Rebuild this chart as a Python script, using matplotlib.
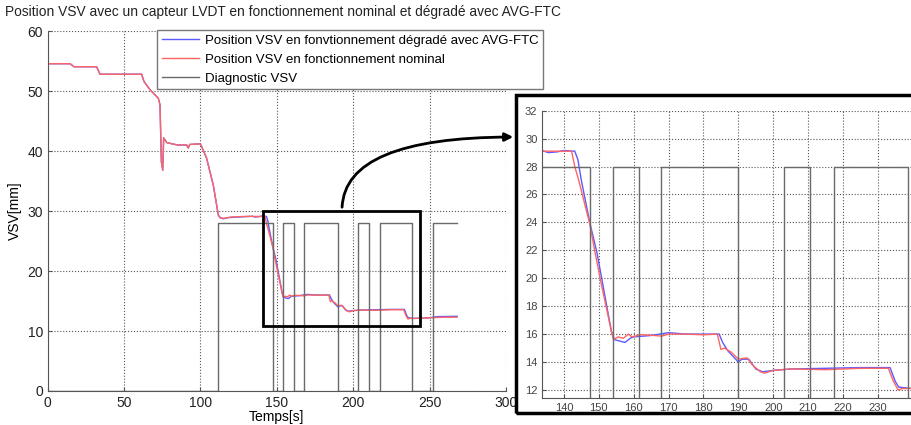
import matplotlib
matplotlib.use("Agg")
import matplotlib.pyplot as plt
from matplotlib.patches import Rectangle, FancyArrowPatch

plt.rcParams["font.family"] = ["Liberation Sans", "DejaVu Sans"]

# ---- data ------------------------------------------------------------
nominal_t = [0, 14.6, 17.2, 32.0, 34.2, 61.5, 63.0, 67.0, 72.4, 73.5, 74.4,
             75.3, 75.9, 77.9, 85.0, 91.0, 92.0, 93.0, 100.0, 104.0, 108.4,
             111.7, 113.0, 116.0, 120.0, 130.0, 140.0, 142.2, 143.1, 144.1,
             147.4, 148.8, 150.7, 153.6, 154.2, 155.5, 157.0, 158.5, 159.5,
             162.0, 166.0, 168.0, 170.0, 175.0, 180.0, 184.0, 185.0, 186.0,
             188.0, 190.0, 192.5, 194.0, 196.3, 197.5, 200.0, 205.0, 215.0,
             225.0, 233.0, 234.5, 235.8, 237.0, 240.0, 250.0, 260.0, 268.0]
nominal_v = [54.55, 54.55, 54.05, 54.05, 52.8, 52.8, 51.6, 50.2, 48.8, 47.7,
             38.2, 36.8, 42.2, 41.4, 41.0, 41.0, 40.5, 41.1, 41.2, 38.8, 34.3,
             29.3, 28.8, 28.8, 29.0, 29.1, 29.1, 29.1, 28.0, 27.15, 23.9,
             22.0, 19.6, 16.2, 15.6, 15.8, 15.7, 16.0, 15.8, 15.95, 15.9,
             15.85, 16.0, 16.0, 15.95, 16.0, 14.9, 15.0, 14.7, 14.2, 14.3,
             13.8, 13.3, 13.2, 13.4, 13.5, 13.45, 13.55, 13.55, 12.6, 12.0,
             12.1, 12.1, 12.2, 12.3, 12.3]

degraded_t = [0, 14.6, 17.2, 32.0, 34.2, 61.5, 63.0, 67.0, 72.4, 73.5, 74.4,
              75.3, 75.9, 77.9, 85.0, 91.0, 92.0, 93.0, 100.0, 104.0, 108.4,
              111.7, 113.0, 115.0, 118.0, 125.0, 134.0, 135.5, 138.0, 140.0,
              143.1, 144.0, 145.0, 147.4, 149.5, 153.6, 154.5, 157.5, 159.0,
              160.0, 165.0, 170.0, 175.0, 184.5, 185.5, 187.0, 190.0, 191.0,
              193.0, 195.0, 197.0, 200.0, 205.0, 225.0, 233.5, 235.0, 236.0,
              240.0, 250.0, 255.0, 268.0]
degraded_v = [54.55, 54.55, 54.05, 54.05, 52.8, 52.8, 51.6, 50.2, 48.8, 47.7,
              38.2, 36.8, 42.2, 41.4, 41.0, 41.0, 40.5, 41.1, 41.2, 38.8, 34.3,
              29.3, 28.9, 28.7, 28.9, 29.0, 29.13, 29.0, 29.05, 29.15, 29.1,
              28.5, 27.0, 24.0, 21.8, 16.2, 15.6, 15.4, 15.7, 15.8, 15.9,
              16.1, 16.0, 16.0, 15.4, 14.8, 14.0, 14.2, 14.2, 13.5, 13.3,
              13.4, 13.5, 13.6, 13.6, 12.6, 12.2, 12.1, 12.2, 12.4, 12.45]

diag_t = [0, 111.7, 147.6, 154.2, 161.4, 167.9, 189.8, 203.0, 210.6, 217.4,
          238.7, 252.0, 267.7]
diag_v = [0, 28, 0, 28, 0, 28, 0, 28, 0, 28, 0, 28, 28]

BLUE = "#5a5aff"
RED = "#ff6464"
GREY = "#6a6a6a"


def style_axes(ax, size, colour):
    ax.grid(True, ls=":", lw=0.8, color="#555555")
    for side in ("top", "right"):
        ax.spines[side].set_visible(False)
    for side in ("left", "bottom"):
        ax.spines[side].set_color("#555555")
        ax.spines[side].set_linewidth(0.8)
    ax.tick_params(direction="in", length=3, labelsize=size,
                   labelcolor=colour, color="#555555")


def draw(ax):
    ax.plot(degraded_t, degraded_v, color=BLUE, lw=1.0,
            label="Position VSV en fonvtionnement dégradé avec AVG-FTC")
    ax.plot(nominal_t, nominal_v, color=RED, lw=1.0,
            label="Position VSV en fonctionnement nominal")
    ax.plot(diag_t, diag_v, color=GREY, lw=1.0, drawstyle="steps-post",
            label="Diagnostic VSV")


fig = plt.figure(figsize=(9.11, 4.25), dpi=100)

ax = fig.add_axes([0.0524, 0.08, 0.503, 0.847])
draw(ax)
ax.set_xlim(0, 300)
ax.set_ylim(0, 60)
ax.set_xticks(range(0, 301, 50))
ax.set_yticks(range(0, 61, 10))
style_axes(ax, 10, "#222222")
ax.set_xlabel("Temps[s]", fontsize=10, labelpad=0)
ax.set_ylabel("VSV[mm]", fontsize=10, labelpad=4)
ax.add_patch(Rectangle((141, 10.8), 103, 19.2, fill=False, ec="black",
                       lw=2.0, zorder=6))
ax.legend(loc="upper left", bbox_to_anchor=(157 / 911, 1 - 30 / 425),
          bbox_transform=fig.transFigure, fontsize=9.5, fancybox=False,
          edgecolor="#777777", framealpha=1, borderpad=0.35,
          borderaxespad=0, handlelength=2.8, labelspacing=0.5,
          handletextpad=0.5)

fig.text(5 / 911, 1 - 12 / 425, "Position VSV avec un capteur LVDT en "
         "fonctionnement nominal et dégradé avec AVG-FTC",
         fontsize=9.9, ha="left", va="center", color="#222222")

# ---- zoomed inset ----------------------------------------------------
axi = fig.add_axes([0.5953, 0.0628, 0.4047, 0.6767])
draw(axi)
axi.set_xlim(133.8, 239.5)
axi.set_ylim(11.4, 32)
axi.set_xticks(range(140, 231, 10))
axi.set_yticks(range(12, 33, 2))
style_axes(axi, 8, "#444444")

fig.add_artist(Rectangle((516 / 911, 1 - 413 / 425), 0.5, (413 - 95) / 425,
                         transform=fig.transFigure, fill=False, ec="black",
                         lw=2.5))

arrow = FancyArrowPatch((342 / 911, 1 - 210 / 425), (516 / 911, 1 - 137 / 425),
                        transform=fig.transFigure,
                        connectionstyle="angle3,angleA=90,angleB=0",
                        arrowstyle="-|>", mutation_scale=12, lw=2.0,
                        color="black")
fig.add_artist(arrow)

fig.savefig("out.png", dpi=100)
